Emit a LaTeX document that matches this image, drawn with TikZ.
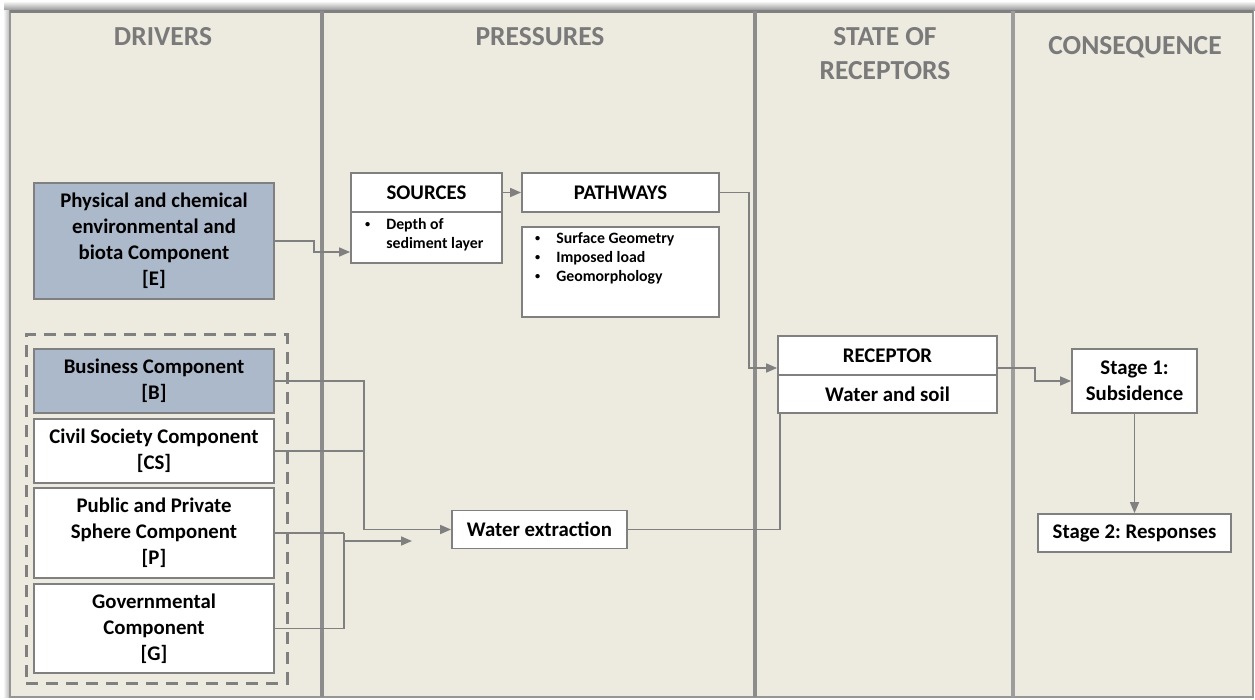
\documentclass[tikz,border=0pt]{standalone}
\usepackage{fontspec}
\setmainfont{Carlito}
\usetikzlibrary{arrows.meta}
\frenchspacing
\definecolor{panel}{RGB}{237,234,224}
\definecolor{frame}{RGB}{150,150,150}
\definecolor{divider}{RGB}{140,140,140}
\definecolor{boxline}{RGB}{128,128,128}
\definecolor{bluegray}{RGB}{172,185,202}
\definecolor{titlegray}{RGB}{122,122,122}
\newcommand{\smallbul}{\raisebox{1.5pt}{\scalebox{0.65}{•}}}
\tikzset{
 box/.style={draw=boxline, line width=1.8pt, fill=white, inner sep=0pt, align=center, font=\fontsize{20.8}{26}\selectfont\bfseries},
 bluebox/.style={box, fill=bluegray},
 small/.style={font=\fontsize{15.8}{19}\selectfont\bfseries, inner sep=0pt, align=left},
 title/.style={font=\fontsize{27.5}{34}\selectfont\bfseries, text=titlegray, align=center, inner sep=0pt},
 grp/.style={draw=boxline, line width=3pt, dash pattern=on 12pt off 8pt, inner sep=0pt},
 conn/.style={draw=boxline, line width=1.6pt},
 arr/.style={conn, -{Triangle[length=11pt,width=9pt]}},
}
\begin{document}
\begin{tikzpicture}[x=1pt,y=-1pt]
\useasboundingbox (0,0) rectangle (1255,700);
\fill[white] (0,0) rectangle (1255,700);
% shadow
\shade[top color=white,bottom color=black!45] (4,1) rectangle (1255,11);
\shade[left color=white,right color=black!30] (3,11) rectangle (10,697);
% panels
\fill[panel] (10,11) rectangle (1253,697);
\draw[frame, line width=1.5pt] (10,11) rectangle (1253,697);
\draw[black!50, line width=3pt] (10,12) -- (1253,12);
\draw[divider, line width=4.5pt] (322,11) -- (322,697);
\draw[divider, line width=4pt] (755,11) -- (755,697);
\draw[divider!85, line width=4pt] (1013,11) -- (1013,697);
% titles
\node[title] (tD) at (163,37) {DRIVERS};
\node[title] (tP) at (540,37) {PRESSURES};
\node[title] (tS) at (885,54) {STATE OF\\RECEPTORS};
\node[title] (tC) at (1135,47) {CONSEQUENCE};
% drivers
\node[bluebox, minimum width=240, minimum height=116] (E) at (154,241) {Physical and chemical\\environmental and\\biota Component\\{[E]}};
\node[grp, minimum width=261, minimum height=348] (grp) at (156.5,509) {};
\node[bluebox, minimum width=240, minimum height=64] (B) at (154,381) {Business Component\\{[B]}};
\node[box, minimum width=240, minimum height=64] (CS) at (154,451) {Civil Society Component\\{[CS]}};
\node[box, minimum width=240, minimum height=90] (P) at (154,533) {Public and Private\\Sphere Component\\{[P]}};
\node[box, minimum width=240, minimum height=89] (G) at (154,628.5) {Governmental\\Component\\{[G]}};
% pressures
\node[box, minimum width=151, minimum height=39] (srcH) at (426.5,192.5) {SOURCES};
\node[box, minimum width=151, minimum height=51] (srcB) at (426.5,237.5) {};
\node[small, anchor=north west] (srcT) at (365,216) {\begin{tabular}{@{}l@{\hspace{16pt}}l@{}}\smallbul&Depth of\\&sediment layer\end{tabular}};
\node[box, minimum width=197, minimum height=39] (pathH) at (620.5,192.5) {PATHWAYS};
\node[box, minimum width=197, minimum height=90] (pathB) at (620.5,272) {};
\node[small, anchor=north west] (pathT) at (535,230) {\begin{tabular}{@{}l@{\hspace{16pt}}l@{}}\smallbul&Surface Geometry\\\smallbul&Imposed load\\\smallbul&Geomorphology\end{tabular}};
\node[box, minimum width=175, minimum height=38] (water) at (539.5,529.5) {Water extraction};
% receptors
\node[box, minimum width=219, minimum height=39] (recH) at (887.5,355.5) {RECEPTOR};
\node[box, minimum width=219, minimum height=38] (recB) at (887.5,394) {Water and soil};
% consequence
\node[box, minimum width=125, minimum height=64] (s1) at (1134.5,381) {Stage 1:\\Subsidence};
\node[box, minimum width=193, minimum height=38] (s2) at (1134.5,533) {Stage 2: Responses};
% connectors
\coordinate (jCS) at (363,451);
\coordinate (pgs) at (343,541);
\coordinate (pge) at (412,541);
\draw[arr] (E.east) -- ++(39,0) |- ([yshift=-14.5pt]srcB.west);
\draw[arr] (srcH.east) -- (pathH.west);
\draw[arr] (pathH.east) -- ++(29,0) |- ([yshift=-12.5pt]recH.west);
\draw[arr] ([yshift=-12.5pt]recH.east) -- ++(37,0) |- (s1.west);
\draw[arr] (s1.south) -- (s2.north);
\draw[arr] (B.east) -- ++(89,0) |- (water.west);
\draw[conn] (CS.east) -- (jCS);
\draw[conn] (P.east) -- ++(69,0) coordinate (jP);
\draw[conn] (G.east) -- ++(69,0) |- (jP);
\draw[arr] (pgs) -- (pge);
\draw[conn] (water.east) -| ([xshift=3pt]recB.south west);
\end{tikzpicture}
\end{document}
